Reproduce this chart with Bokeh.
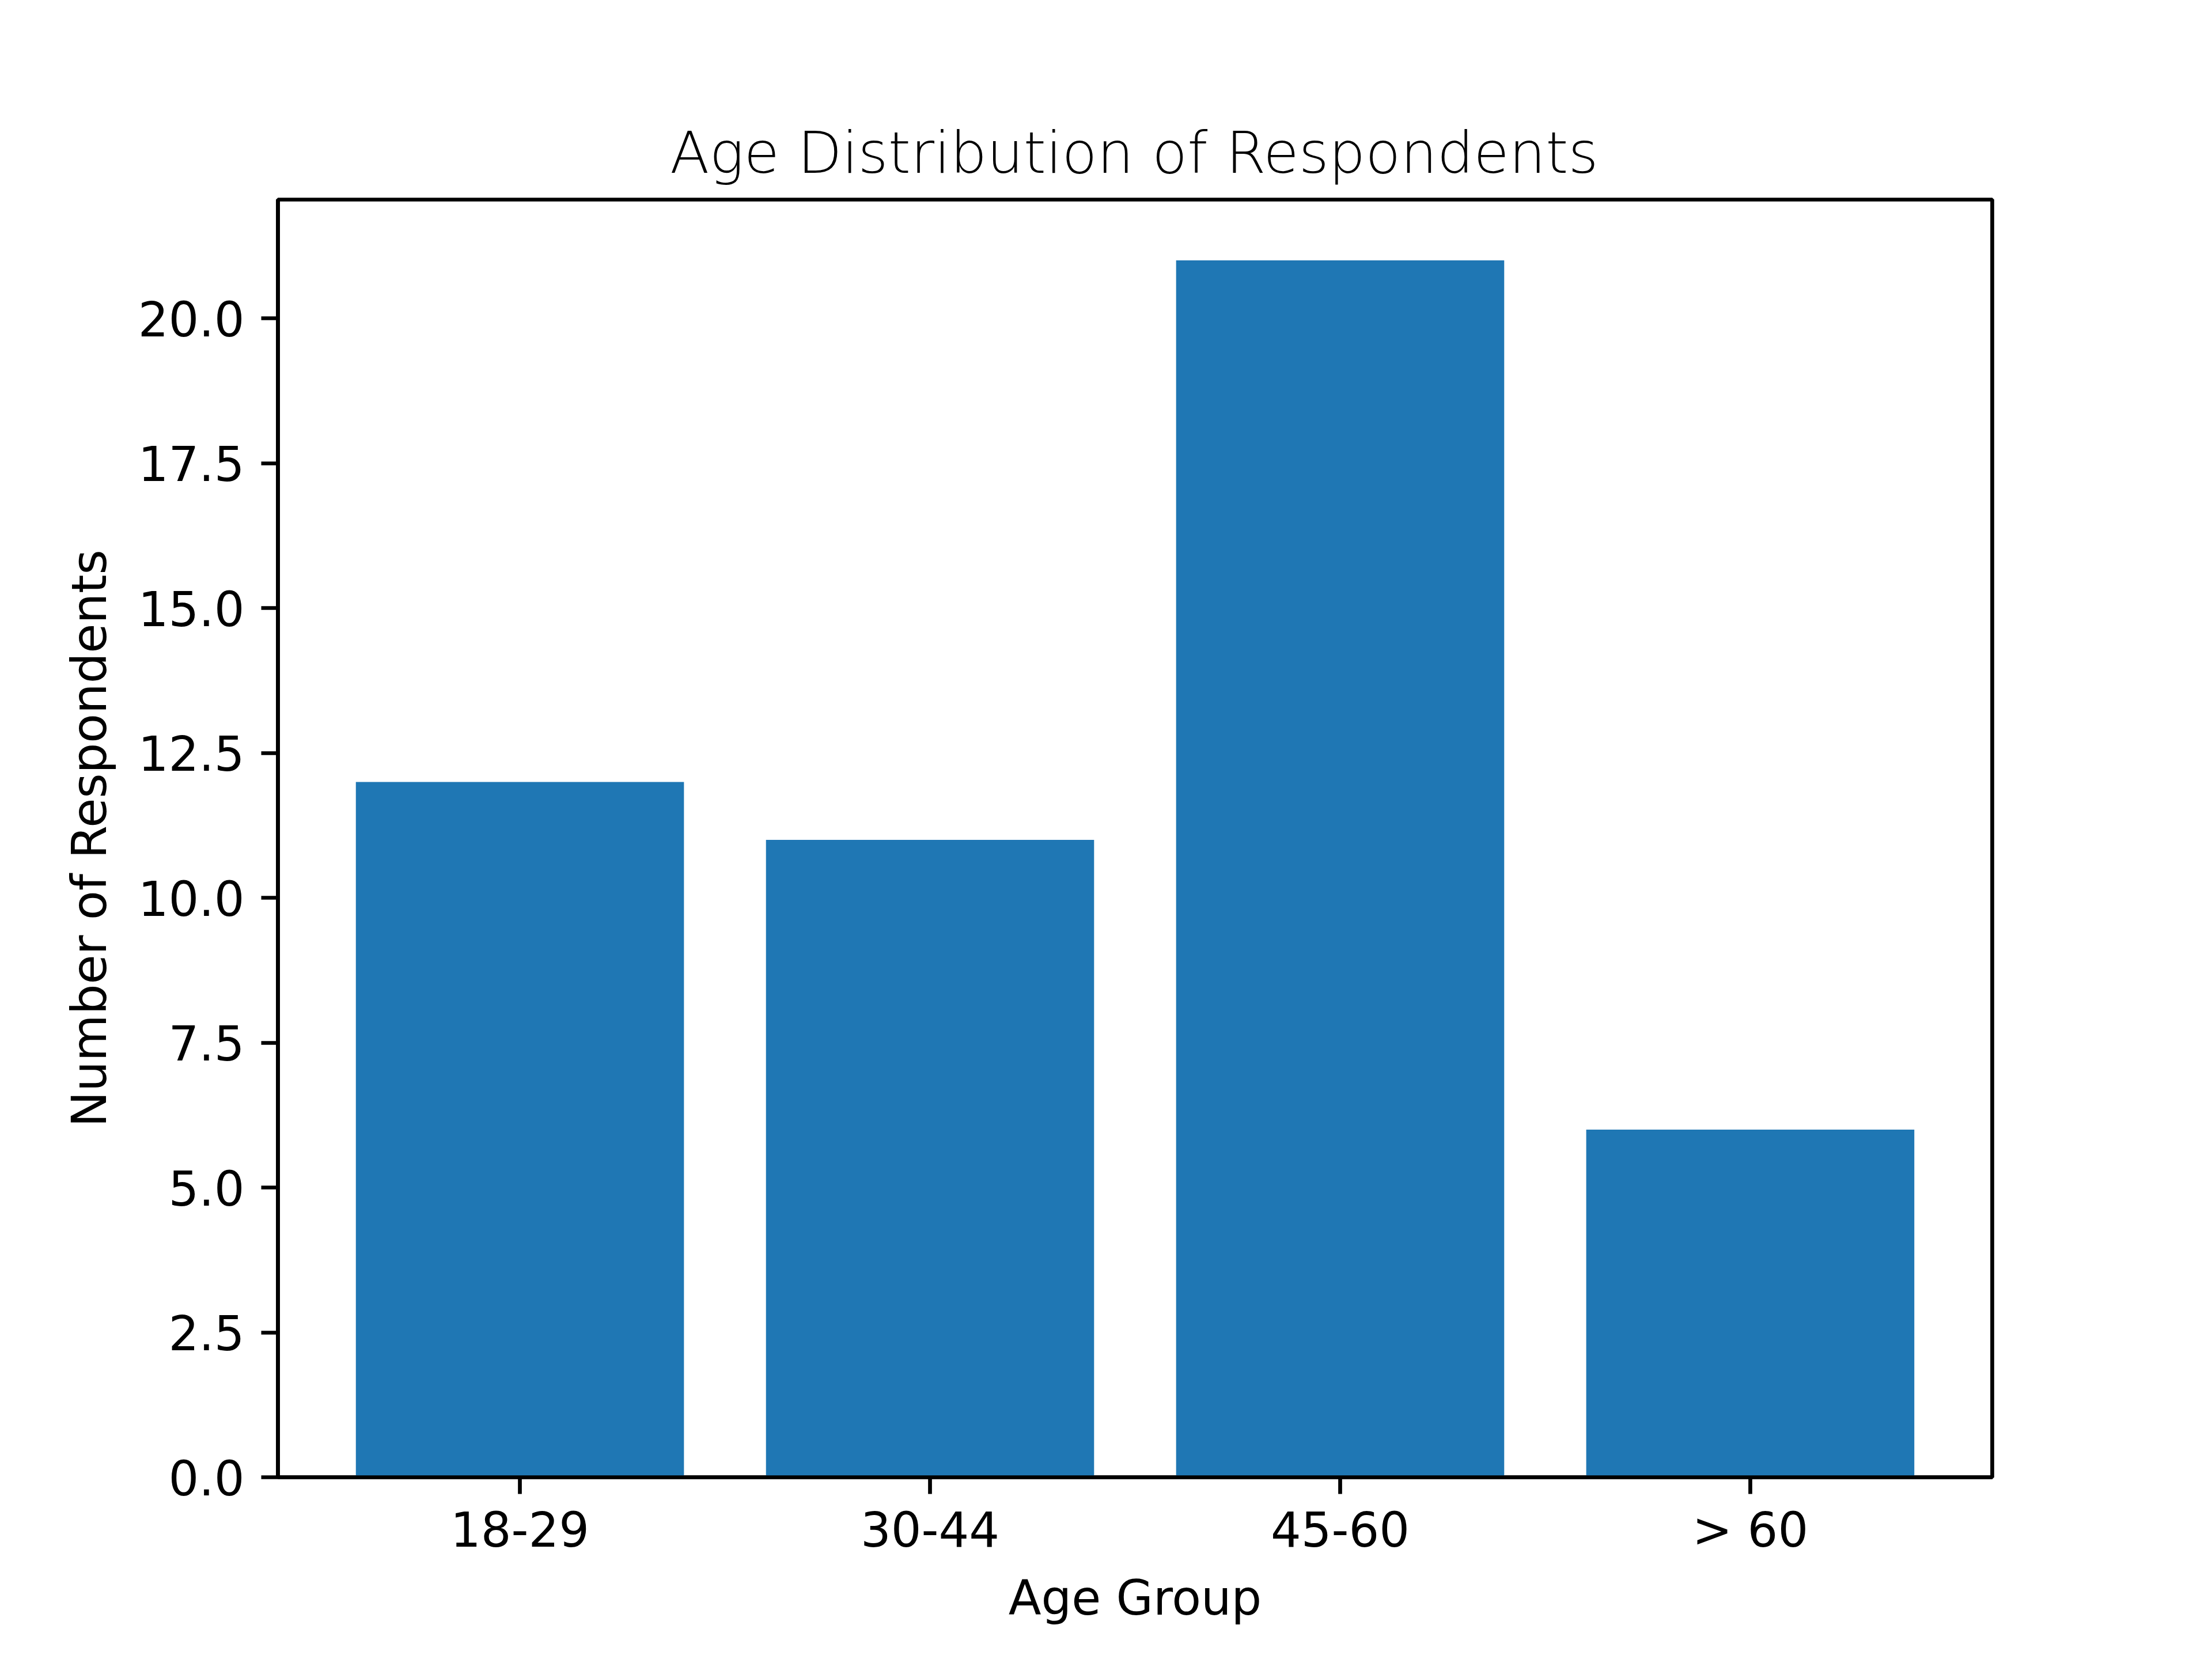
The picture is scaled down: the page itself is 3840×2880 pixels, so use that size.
from bokeh.plotting import figure
from bokeh.models import FixedTicker, NumeralTickFormatter, Range1d, FactorRange
from bokeh.embed import file_html
from bokeh.resources import INLINE

categories = ["18-29", "30-44", "45-60", "> 60"]
counts = [12, 11, 21, 6]
y_ticks = [0, 2.5, 5, 7.5, 10, 12.5, 15, 17.5, 20]

FONT = "DejaVu Sans"
LW = 6.7

p = figure(
    x_range=FactorRange(*categories, range_padding=0.045),
    y_range=Range1d(0, max(counts) * 1.05),
    frame_width=2976, frame_height=2218,
    min_border_left=482, min_border_right=366,
    min_border_top=346, min_border_bottom=292,
    output_backend="svg", toolbar_location=None,
    title="Age Distribution of Respondents",
)

p.vbar(x=categories, top=counts, width=0.8, fill_color="#1f77b4", line_color=None)

p.title.text_font = FONT
p.title.text_font_size = "100px"
p.title.text_font_style = "normal"
p.title.text_color = "black"
p.title.align = "center"
p.title.standoff = 45

p.grid.visible = False
p.outline_line_color = "black"
p.outline_line_width = LW
p.background_fill_color = "white"
p.border_fill_color = "white"

for ax in (p.xaxis[0], p.yaxis[0]):
    ax.axis_line_width = LW
    ax.axis_line_color = "black"
    ax.major_tick_line_width = LW
    ax.major_tick_line_color = "black"
    ax.major_tick_out = 29
    ax.major_tick_in = 0
    ax.minor_tick_line_color = None
    ax.major_label_text_font = FONT
    ax.major_label_text_font_size = "83px"
    ax.major_label_text_color = "black"
    ax.axis_label_text_font = FONT
    ax.axis_label_text_font_size = "83px"
    ax.axis_label_text_font_style = "normal"
    ax.axis_label_text_color = "black"

p.xaxis.major_label_standoff = 14
p.xaxis.axis_label_standoff = 18
p.yaxis.major_label_standoff = 29
p.yaxis.axis_label_standoff = 33

p.xaxis.axis_label = "Age Group"
p.yaxis.axis_label = "Number of Respondents"
p.yaxis.ticker = FixedTicker(ticks=y_ticks)
p.yaxis.formatter = NumeralTickFormatter(format="0.0")

open("out.html", "w").write(file_html(p, INLINE))
